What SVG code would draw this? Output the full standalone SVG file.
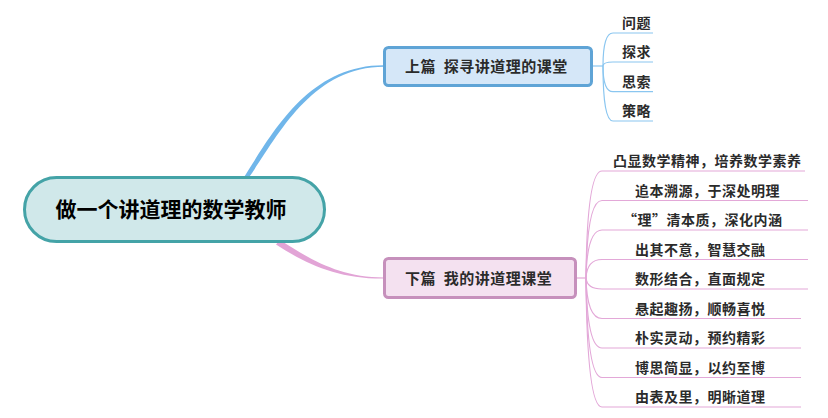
<svg xmlns="http://www.w3.org/2000/svg" width="828" height="418" viewBox="0 0 828 418">
<style>
text{font-family:"Noto Sans CJK SC","Noto Sans",sans-serif;font-weight:bold;}
.root-t{font-size:21px;fill:#000;}
.br-t{font-size:15px;letter-spacing:0.5px;fill:#2b2b2b;white-space:pre;}
.leaf-t{font-size:14px;letter-spacing:0.5px;fill:#2b2b2b;}
.bl{fill:none;stroke:#8ac6f0;stroke-width:1.2;}
.pk{fill:none;stroke:#e3a8d8;stroke-width:1.2;}
</style>
<rect width="828" height="418" fill="#fff"/>
<g id="connectors">
  <path d="M243.5,178 C272,134 308,65 384,65.3 L384,66.7 C311,67 278,136 248.5,178 Z" fill="#70b6ea"/>
  <path d="M280,240 C312,260.5 340,277.3 384,277.4 L384,278.6 C338,279 307,264.5 276,244.5 Z" fill="#e2a4d6"/>
  <!-- upper fan -->
  <path class="bl" d="M592,66 H603"/>
  <path class="bl" d="M603,66 Q603,33 613,33 H653"/>
  <path class="bl" d="M603,66 Q603,62 613,62 H653"/>
  <path class="bl" d="M603,66 Q603,91.7 613,91.7 H653"/>
  <path class="bl" d="M603,66 Q603,121 613,121 H653"/>
  <!-- lower fan -->
  <path class="pk" d="M577,278 H586"/>
  <path class="pk" d="M586,278 Q587,171 602,171 H805"/>
  <path class="pk" d="M586,278 Q587,200.5 602,200.5 H808"/>
  <path class="pk" d="M586,278 Q587,230 602,230 H808"/>
  <path class="pk" d="M586,278 Q587,259.5 602,259.5 H808"/>
  <path class="pk" d="M586,278 Q587,289 602,289 H808"/>
  <path class="pk" d="M586,278 Q587,318.5 602,318.5 H801"/>
  <path class="pk" d="M586,278 Q587,348 602,348 H801"/>
  <path class="pk" d="M586,278 Q587,377.5 602,377.5 H801"/>
  <path class="pk" d="M586,278 Q587,407 602,407 H801"/>
</g>
<g id="root">
  <rect x="24.5" y="177.5" width="300" height="64" rx="32" fill="#d0e8ea" stroke="#44a3a7" stroke-width="3"/>
  <text class="root-t" x="171" y="217" text-anchor="middle">做一个讲道理的数学教师</text>
</g>
<g id="branch-upper">
  <rect x="384.5" y="47.5" width="207" height="38" rx="4" fill="#d5e7f8" stroke="#5fa4d6" stroke-width="3"/>
  <text class="br-t" x="405" y="72">上篇  探寻讲道理的课堂</text>
</g>
<g id="branch-lower">
  <rect x="384.5" y="258.5" width="191" height="39" rx="4" fill="#f4e1f0" stroke="#c690bc" stroke-width="3"/>
  <text class="br-t" x="405" y="284">下篇  我的讲道理课堂</text>
</g>
<g id="leaf-u1"><text class="leaf-t" x="622" y="28">问题</text></g>
<g id="leaf-u2"><text class="leaf-t" x="622" y="57">探求</text></g>
<g id="leaf-u3"><text class="leaf-t" x="622" y="86.7">思索</text></g>
<g id="leaf-u4"><text class="leaf-t" x="622" y="116">策略</text></g>
<g id="leaf-l1"><text class="leaf-t" x="613" y="166">凸显数学精神，培养数学素养</text></g>
<g id="leaf-l2"><text class="leaf-t" x="635" y="195.5">追本溯源，于深处明理</text></g>
<g id="leaf-l3"><text class="leaf-t" x="623" y="225">“理”清本质，深化内涵</text></g>
<g id="leaf-l4"><text class="leaf-t" x="635" y="254.5">出其不意，智慧交融</text></g>
<g id="leaf-l5"><text class="leaf-t" x="635" y="284">数形结合，直面规定</text></g>
<g id="leaf-l6"><text class="leaf-t" x="635" y="313.5">悬起趣扬，顺畅喜悦</text></g>
<g id="leaf-l7"><text class="leaf-t" x="635" y="343">朴实灵动，预约精彩</text></g>
<g id="leaf-l8"><text class="leaf-t" x="635" y="372.5">博思简显，以约至博</text></g>
<g id="leaf-l9"><text class="leaf-t" x="635" y="402">由表及里，明晰道理</text></g>
</svg>
